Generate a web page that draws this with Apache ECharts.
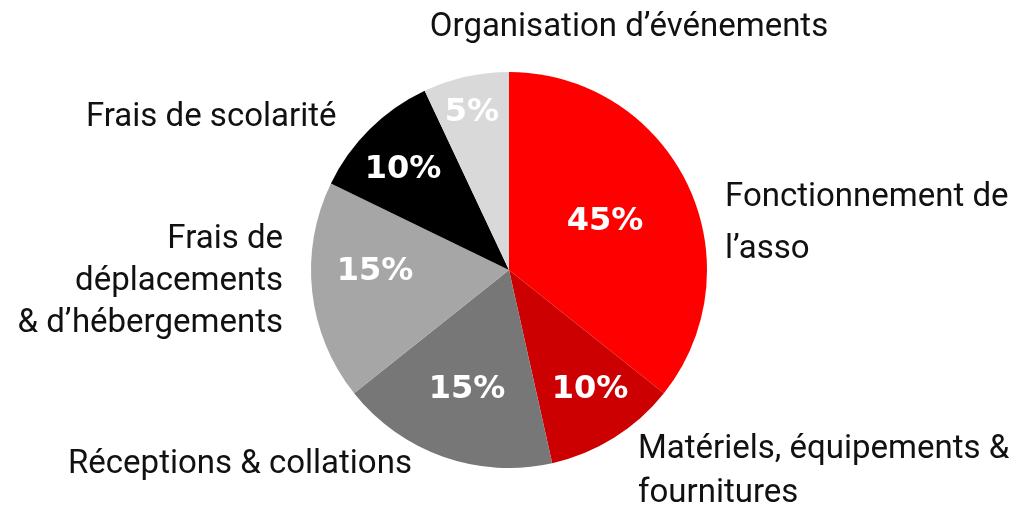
<!DOCTYPE html>
<html><head><meta charset="utf-8">
<script src="https://cdn.jsdelivr.net/npm/echarts@6/dist/echarts.min.js"></script>
<style>html,body{margin:0;padding:0;background:#fff}#c{width:1013px;height:510px}</style>
</head><body><div id="c"></div>
<script>
const categories = ["Fonctionnement de\nl\u2019asso", "Mat\u00e9riels, \u00e9quipements &\nfournitures", "R\u00e9ceptions & collations", "Frais de\nd\u00e9placements\n& d\u2019h\u00e9bergements", "Frais de scolarit\u00e9", "Organisation d\u2019\u00e9v\u00e9nements"];
// slice sizes as drawn in the picture (angles measured)
const values = [35.7, 10.8, 17.8, 17.9, 10.8, 7.0];
// percentages printed on the slices
const pctLabels = ["45%", "10%", "15%", "15%", "10%", "5%"];
const colors = ["#ff0000", "#cc0000", "#777777", "#a6a6a6", "#000000", "#d9d9d9"];

const outerPos = [
  {x: 725, y: 224, align: 'left', lh: 52},
  {x: 638, y: 472, align: 'left', lh: 44},
  {x: 68, y: 465, align: 'left', lh: 44},
  {x: 283, y: 282, align: 'right', lh: 42},
  {x: 86, y: 118, align: 'left', lh: 44},
  {x: 629, y: 28, align: 'center', lh: 44}
];
const innerPos = [[605,222],[590,390],[467,390],[375,272],[403,170],[472,113]];

const chart = echarts.init(document.getElementById('c'));
const center = [509, 270];
const radius = 198;
chart.setOption({
  animation: false,
  series: [
    {
      type: 'pie', center: center, radius: radius, startAngle: 90, clockwise: true,
      silent: true,
      data: categories.map((n, i) => ({name: n, value: values[i], itemStyle: {color: colors[i]},
        label: {lineHeight: outerPos[i].lh}})),
      label: {show: true, position: 'outside', formatter: '{b}', color: '#111',
        fontFamily: 'Roboto', fontSize: 33, overflow: 'none', width: 600},
      labelLine: {show: false},
      labelLayout: function (p) {
        const o = outerPos[p.dataIndex];
        return {x: o.x, y: o.y, align: o.align, verticalAlign: 'middle', hideOverlap: false, moveOverlap: null};
      }
    },
    {
      type: 'pie', center: center, radius: radius, startAngle: 90, clockwise: true,
      silent: true,
      data: categories.map((n, i) => ({name: n, value: values[i]})),
      itemStyle: {color: 'rgba(0,0,0,0)'},
      label: {show: true, position: 'inside', formatter: p => pctLabels[p.dataIndex], color: '#fff',
        fontFamily: 'DejaVu Sans', fontWeight: 'bold', fontSize: 32},
      labelLine: {show: false},
      labelLayout: function (p) {
        const o = innerPos[p.dataIndex];
        return {x: o[0], y: o[1], align: 'center', verticalAlign: 'middle'};
      }
    }
  ]
});
</script></body></html>
